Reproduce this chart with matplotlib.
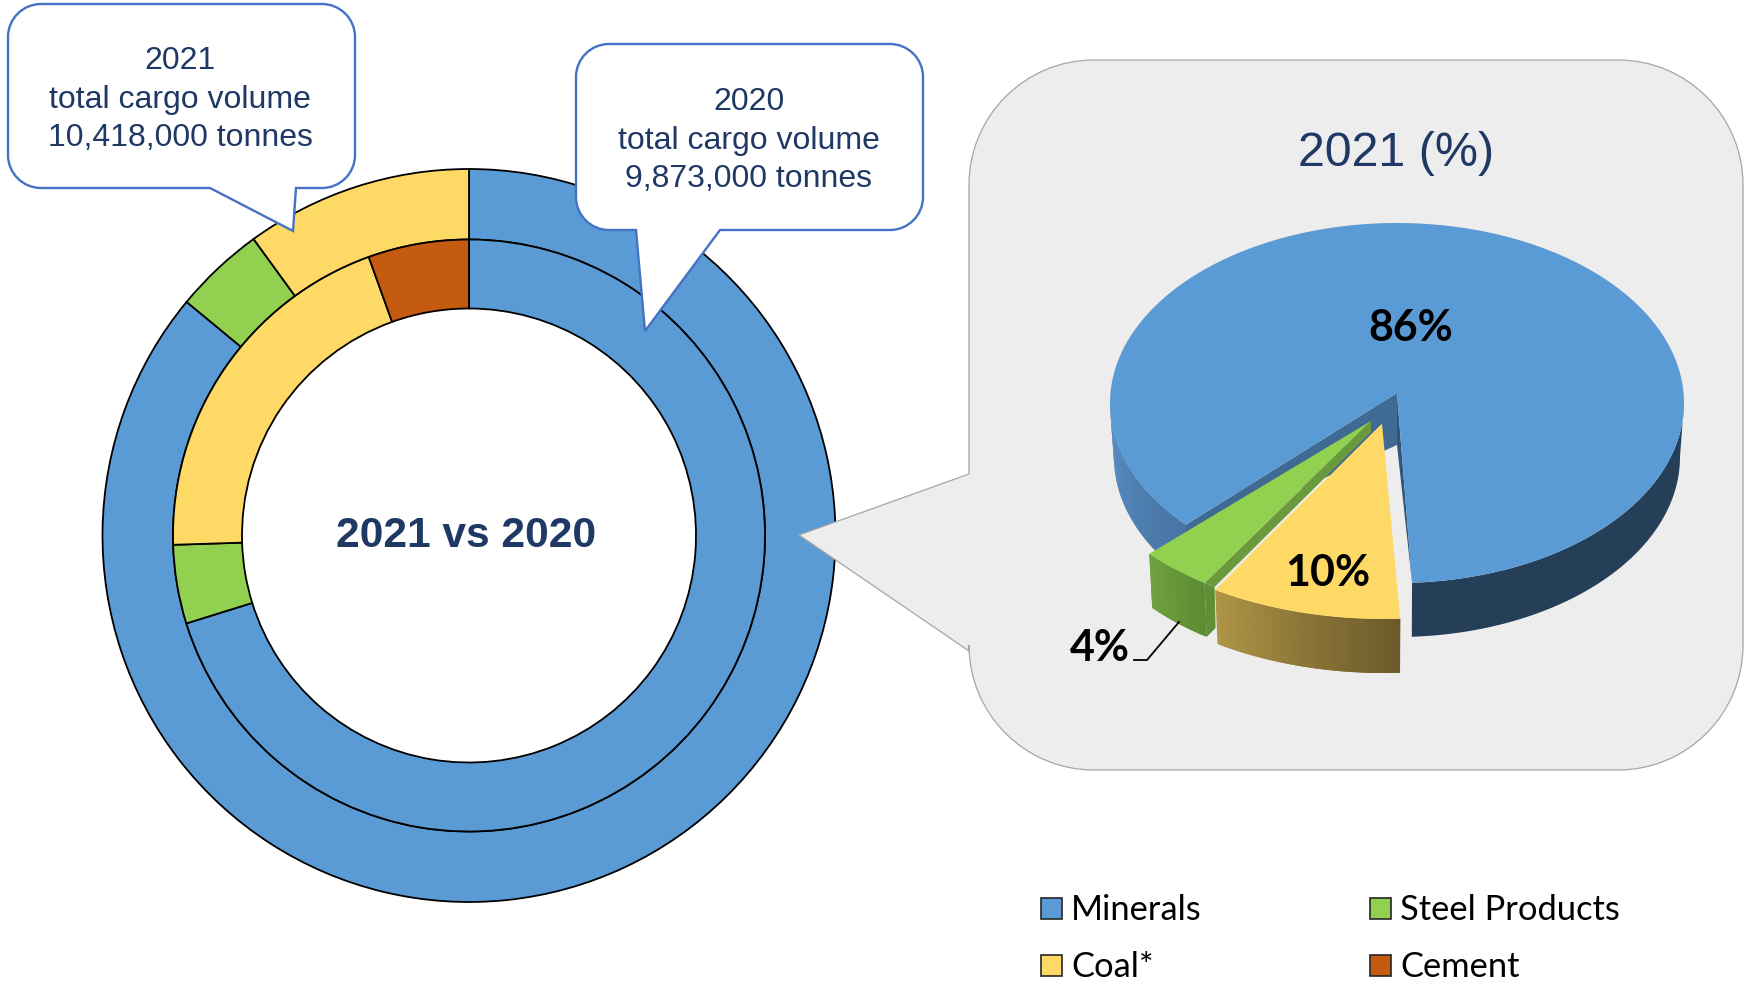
import numpy as np
import matplotlib
matplotlib.use("Agg")
import matplotlib.pyplot as plt
from matplotlib.path import Path
from matplotlib.patches import PathPatch, Rectangle
from matplotlib.colors import to_rgb

categories = ["Minerals", "Steel Products", "Coal*", "Cement"]
values_2021 = [86, 4, 10, 0]
values_2020 = [70.2, 4.3, 20.0, 5.5]
legend_order = ["Minerals", "Steel Products", "Coal*", "Cement"]
callout_2021 = ["2021", "total cargo volume", "10,418,000 tonnes"]
callout_2020 = ["2020", "total cargo volume", "9,873,000 tonnes"]

colors = {"Minerals": "#5B9BD5", "Steel Products": "#92D050",
          "Coal*": "#FFD966", "Cement": "#C55A11"}
navy = "#1F3864"
W, H = 1749, 981
ARIAL = ["Liberation Sans", "DejaVu Sans"]
CALIBRI = ["Lato", "DejaVu Sans"]

fig = plt.figure(figsize=(W / 100, H / 100), dpi=100)
ax = fig.add_axes([0, 0, 1, 1])


def ring(vals, radius, width):
    keep = [(v, colors[c]) for v, c in zip(vals, categories) if v > 0]
    ax.pie([k[0] for k in keep], colors=[k[1] for k in keep], center=(469, 535.5),
           radius=radius, startangle=-90, counterclock=True, frame=True,
           wedgeprops=dict(width=width, edgecolor="black", linewidth=1.3))


ring(values_2021, 366.5, 70.5)
ring(values_2020, 296, 69)
ax.set_xlim(0, W)
ax.set_ylim(H, 0)
ax.axis("off")


def bubble(l, t, r, b, rad, tail, side, **kw):
    k = rad * 0.4477
    v = [(l + rad, t), (r - rad, t),
         (r - k, t), (r, t + k), (r, t + rad), (r, b - rad),
         (r, b - k), (r - k, b), (r - rad, b)]
    c = [Path.MOVETO, Path.LINETO,
         Path.CURVE4, Path.CURVE4, Path.CURVE4, Path.LINETO,
         Path.CURVE4, Path.CURVE4, Path.CURVE4]
    if side == "bottom":
        v += list(tail)
        c += [Path.LINETO] * 3
    v += [(l + rad, b), (l + k, b), (l, b - k), (l, b - rad)]
    c += [Path.LINETO, Path.CURVE4, Path.CURVE4, Path.CURVE4]
    if side == "left":
        v += list(tail)
        c += [Path.LINETO] * 3
    v += [(l, t + rad), (l, t + k), (l + k, t), (l + rad, t), (l + rad, t)]
    c += [Path.LINETO, Path.CURVE4, Path.CURVE4, Path.CURVE4, Path.CLOSEPOLY]
    ax.add_patch(PathPatch(Path(v, c), **kw))


# grey panel behind the 3D pie
bubble(969, 60, 1743, 770, 125, [(969, 651), (799, 535), (969, 474)], "left",
       facecolor="#EDEDED", edgecolor="#A6A6A6", linewidth=0.9)

# year callouts on the rings
line_style = dict(facecolor="white", edgecolor="#4472C4", linewidth=1.7)
bubble(8, 4, 355, 188, 33, [(296, 188), (293, 231), (210, 188)], "bottom", **line_style)
bubble(576, 44, 923, 230, 33, [(720, 230), (645, 331), (636, 230)], "bottom", **line_style)

for lines, x, ys in [(callout_2021, 180, (61, 100, 138)), (callout_2020, 749, (102, 141, 179))]:
    for txt, y in zip(lines, ys):
        ax.text(x, y, txt, ha="center", va="center", fontsize=23, color=navy, family=ARIAL)

ax.text(466, 536, "2021 vs 2020", ha="center", va="center", fontsize=30.6,
        fontweight="bold", color=navy, family=ARIAL)
ax.text(1396, 153, "2021 (%)", ha="center", va="center", fontsize=34.8, color=navy, family=ARIAL)

# 3D pie, slices are separate ellipses so each can be pulled out
RY, DEPTH = 180, 54


def arc(cx, cy, rx, a0, a1, n=120, dy=0):
    t = np.radians(np.linspace(a0, a1, n))
    return np.column_stack([cx + rx * np.cos(t), cy + dy - RY * np.sin(t)])


def wall(cx, cy, rx, a0, a1, c0, c1, n=40):
    # side of a slice, shaded in strips along the arc; each strip overlaps the next
    edges = np.linspace(a0, a1, n + 1)
    c0, c1 = np.array(to_rgb(c0)), np.array(to_rgb(c1))
    pts = 120 if n == 1 else 8
    for i in range(n):
        end = edges[min(i + 2, n)]
        top = arc(cx, cy, rx, edges[i], end, pts)
        low = arc(cx, cy, rx * 0.986, end, edges[i], pts, DEPTH)
        col = c0 + (c1 - c0) * i / max(n - 1, 1)
        ax.fill(*np.vstack([top, low]).T, color=col, lw=0)


start = -87.0
sweeps = [v * 3.6 for v in values_2021]
min_end = start + sweeps[0]
steel_end = min_end + sweeps[1]
coal_end = steel_end + sweeps[2]

min_c = (1397, 403)
min_rx = 287
min_apex = (1397, 393)
steel_c = (1362, 432)
steel_rx = 289
steel_apex = (1371, 421)
coal_c = (1384, 439)
coal_rx = 310
coal_apex = (1382, 423.5)

# minerals: back walls first, then the cut faces, then the top
wall(*min_c, min_rx, start, 0, "#243F57", "#243F57", n=1)
wall(*min_c, min_rx, 180, min_end, "#5A8FC4", "#4674A3")
p = arc(*min_c, min_rx, start, start, 1)[0]
q = arc(*min_c, min_rx, min_end, min_end, 1)[0]
ax.fill(*np.array([min_apex, q, q + (0, 16), (1397, 445)]).T, color="#3E6A94", lw=0)
ax.fill(*np.array([min_apex, p, (1397, 445)]).T, color="#30567A", lw=0)
ax.fill(*np.vstack([[min_apex], arc(*min_c, min_rx, start, min_end, 240)]).T,
        color=colors["Minerals"], lw=0)

# steel
s0 = arc(*steel_c, steel_rx, steel_end, steel_end, 1)[0]
wall(*steel_c, steel_rx, steel_end, min_end, "#5C8C33", "#6FA03F", n=16)
ax.fill(*np.array([s0, s0 + (10, 4), s0 + (11, 45), s0 + (2, 54)]).T, color="#5F8F35", lw=0)
ax.fill(*np.array([steel_apex, s0, s0 + (10, 4), (1371, 432)]).T, color="#6B9A3D", lw=0)
ax.fill(*np.vstack([[steel_apex], arc(*steel_c, steel_rx, min_end, steel_end, 40)]).T,
        color=colors["Steel Products"], lw=0)

# coal
wall(*coal_c, coal_rx, steel_end, start + 360, "#AE9445", "#6B592A")
ax.fill(*np.vstack([[coal_apex], arc(*coal_c, coal_rx, steel_end, start + 360, 60)]).T,
        color=colors["Coal*"], lw=0)

ax.plot([1179, 1147, 1134], [622, 660, 660], color="black", lw=1.3)

pct_style = dict(ha="center", va="center", fontsize=31, fontweight="bold",
                 color="black", family=CALIBRI)
ax.text(1411, 328, f"{values_2021[0]}%", **pct_style)
ax.text(1328, 573, f"{values_2021[2]}%", **pct_style)
ax.text(1100, 648, f"{values_2021[1]}%", **pct_style)

# legend, two columns
cols = [1041, 1370]
rows = [908, 965]
for i, name in enumerate(legend_order):
    x, y = cols[i % 2], rows[i // 2]
    ax.add_patch(Rectangle((x, y - 10.5), 21, 21, facecolor=colors[name],
                           edgecolor="#262626", linewidth=1.2))
    ax.text(x + 30, y + 2, name, ha="left", va="center", fontsize=24.8,
            color="black", family=CALIBRI)

fig.savefig("out.png", dpi=100)
